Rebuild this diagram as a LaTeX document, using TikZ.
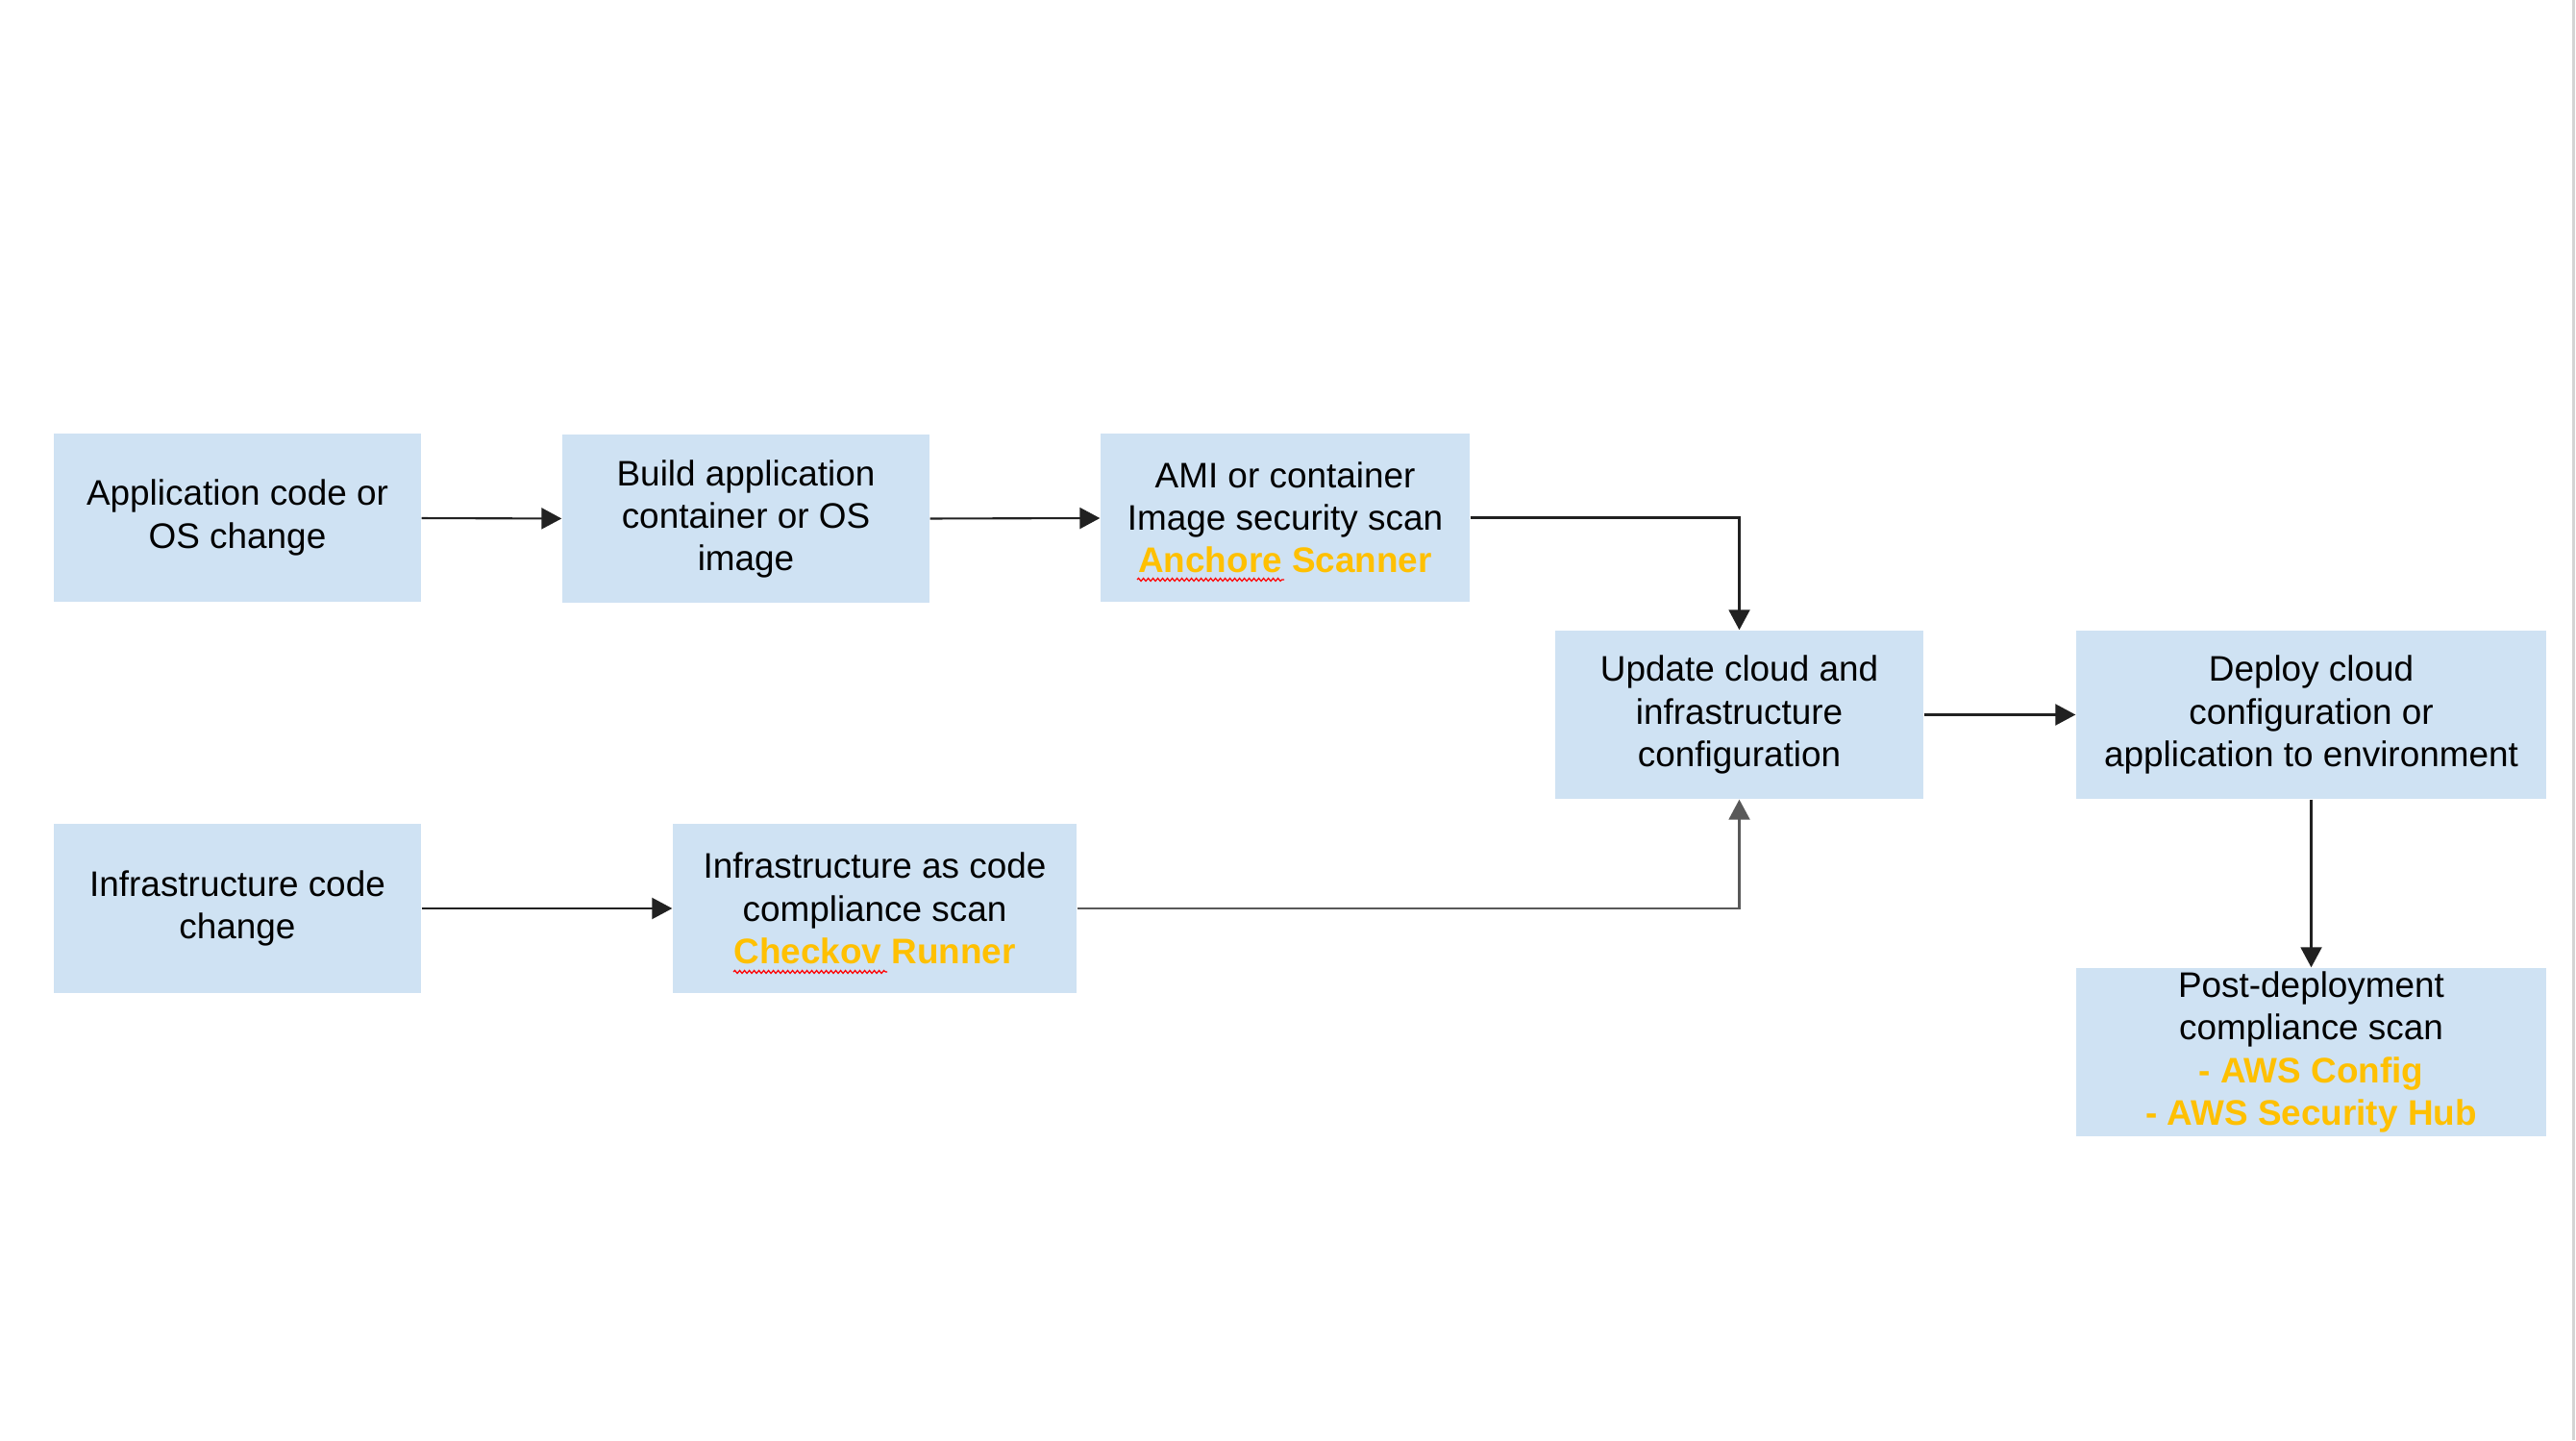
\documentclass[tikz,border=0pt]{standalone}
\usepackage{fontspec}
\setmainfont{Liberation Sans}
\usetikzlibrary{arrows.meta,decorations.pathmorphing}
\definecolor{boxblue}{HTML}{CFE2F3}
\definecolor{scanorange}{HTML}{FFC000}
\definecolor{linegray}{HTML}{595959}
\definecolor{edgegray}{HTML}{D4D4D4}
\newcommand\scantool[1]{{\bfseries\color{scanorange}#1}}
\begin{document}
\begin{tikzpicture}[
	stage/.style={fill=boxblue, inner sep=0pt, align=center, minimum height=1.75cm, font=\fontsize{10.5}{12.6}\selectfont},
	flow/.style={line width=0.6pt, draw=black!87, -{Triangle[length=0.21cm,width=0.22cm]}},
	spellwave/.style={red, line width=0.35pt, decorate, decoration={snake, segment length=0.05cm, amplitude=0.015cm}},
	]
	\useasboundingbox (0,0) rectangle (26.8,14.98);
	% 右侧边线
	\draw [edgegray, line width=0.03cm] (26.77,0) -- (26.77,14.98);
	% 应用分支
	\node [stage, minimum width=3.82cm] (appchange) at (2.47,9.595) {Application code or\\OS change};
	\node [stage, minimum width=3.82cm] (build) at (7.76,9.58) {Build application\\container or OS\\image};
	\node [stage, minimum width=3.84cm] (imgscan) at (13.37,9.595) {AMI or container\\Image security scan\\\scantool{Anchore Scanner}};
	% 基础设施分支
	\node [stage, minimum width=3.82cm] (infrachange) at (2.47,5.53) {Infrastructure code\\change};
	\node [stage, minimum width=4.20cm] (iacscan) at (9.10,5.53) {Infrastructure as code\\compliance scan\\\scantool{Checkov Runner}};
	% 部署
	\node [stage, minimum width=3.83cm] (update) at (18.095,7.545) {Update cloud and\\infrastructure\\configuration};
	\node [stage, minimum width=4.89cm] (deploy) at (24.045,7.545) {Deploy cloud\\configuration or\\application to environment};
	\node [stage, minimum width=4.89cm] (postscan) at (24.045,4.035) {Post-deployment\\compliance scan\\\scantool{- AWS Config}\\\scantool{- AWS Security Hub}};
	% 拼写波浪线
	\draw [spellwave] ([xshift=-1.54cm, yshift=-0.645cm]imgscan.center) -- ++(1.53,0);
	\draw [spellwave] ([xshift=-1.47cm, yshift=-0.66cm]iacscan.center) -- ++(1.60,0);
	% 连线
	\draw [flow] (appchange) -- (build);
	\draw [flow] (build) -- (imgscan);
	\draw [flow] (imgscan.east) -| (update.north);
	\draw [flow] (infrachange) -- (iacscan);
	\draw [flow, draw=linegray] (iacscan.east) -| (update.south);
	\draw [flow] (update) -- (deploy);
	\draw [flow] (deploy) -- (postscan);
\end{tikzpicture}
\end{document}
